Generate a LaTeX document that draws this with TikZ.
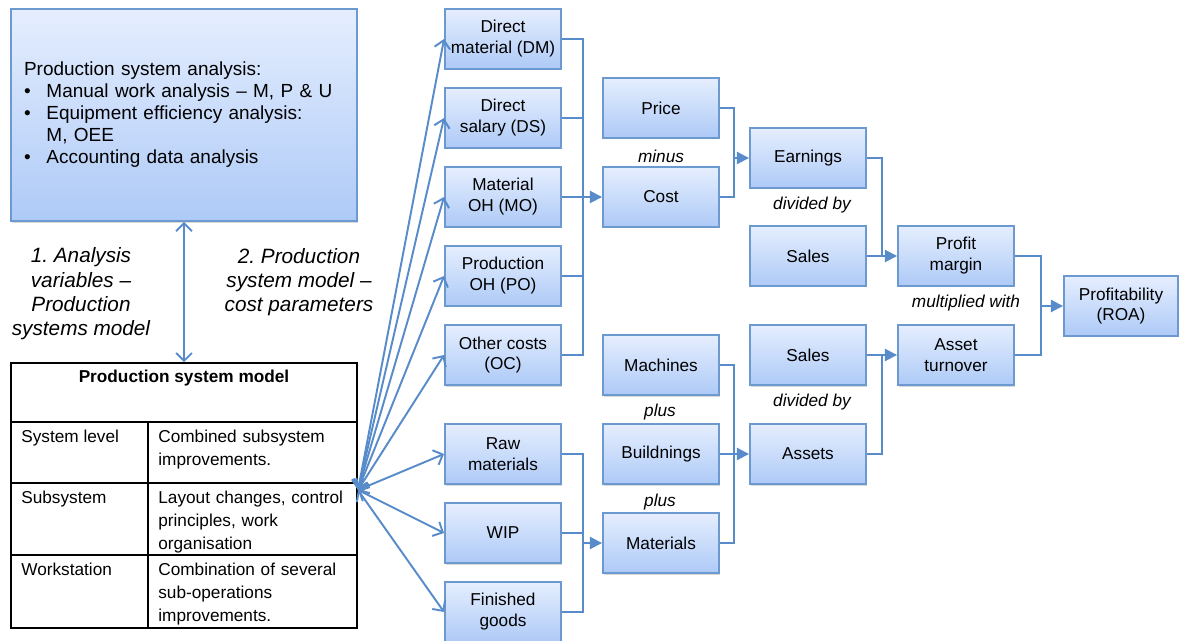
\documentclass[tikz,border=0pt]{standalone}
\usepackage{fontspec}
\setmainfont{Liberation Sans}
\usepackage{tikz}
\usetikzlibrary{arrows.meta, positioning, shadows}

\definecolor{boxedge}{RGB}{108,153,208}
\definecolor{boxtop}{RGB}{229,238,254}
\definecolor{boxbot}{RGB}{174,202,247}
\definecolor{linkblue}{RGB}{88,139,201}

\newcommand{\boxfont}{\fontsize{9.8}{11.9}\selectfont}
\newcommand{\anafont}{\fontsize{10.8}{12.6}\selectfont}
\newcommand{\stepfont}{\fontsize{11.8}{13.8}\selectfont\itshape}
\newcommand{\opfont}{\fontsize{9.8}{11.9}\selectfont\itshape}
\newcommand{\tblfont}{\fontsize{9.8}{12.9}\selectfont}

\begin{document}
\begin{tikzpicture}[x=0.02cm, y=-0.02cm,
  box/.style={draw=boxedge, line width=1.1pt, top color=boxtop, bottom color=boxbot,
    minimum width=2.32cm, minimum height=1.19cm, inner sep=1pt, align=center,
    font=\boxfont, drop shadow={shadow xshift=0.7pt, shadow yshift=-1pt, opacity=0.3}},
  link/.style={draw=linkblue, line width=1.1pt},
  flow/.style={link, -{Triangle[length=7pt, width=7pt]}},
  fan/.style={link, {Straight Barb[length=4.5pt, width=9pt]}-{Straight Barb[length=4.5pt, width=9pt]}},
  steplbl/.style={align=center, font=\stepfont},
  oplbl/.style={font=\opfont},
  cell/.style={anchor=north west, inner sep=0pt, align=left, font=\tblfont}]
  \useasboundingbox (0,0) rectangle (1179,641);

  % Analysis box
  \node[box, minimum width=6.92cm, minimum height=4.24cm, text width=6.4cm,
    inner xsep=0.26cm, align=left, font=\anafont] (ana) at (184,115) {%
    \begin{tabular}{@{}l@{\hspace{9pt}}l@{}}
      \multicolumn{2}{@{}l@{}}{Production system analysis:}\\
      \textbullet & Manual work analysis – M, P \& U\\
      \textbullet & Equipment efficiency analysis:\\
                  & M, OEE\\
      \textbullet & Accounting data analysis
    \end{tabular}};

  % Production system model table
  \node[draw, line width=0.9pt, minimum width=6.92cm, minimum height=5.3cm] (tbl) at (184,495.5) {};
  \draw[line width=0.9pt] (11,422) -- (357,422) (11,483) -- (357,483) (11,555) -- (357,555)
    (148,422) -- (148,628);
  \node[font=\tblfont\bfseries] (tblhead) at (184,378) {Production system model};
  \node[cell] (lvla) at (21,430) {System level};
  \node[cell] (lvlb) at (21,491) {Subsystem};
  \node[cell] (lvlc) at (21,563) {Workstation};
  \node[cell, text width=3.9cm] (desca) at (158,430) {Combined subsystem\\improvements.};
  \node[cell, text width=3.9cm] (descb) at (158,491) {Layout changes, control\\principles, work\\organisation};
  \node[cell, text width=3.9cm] (descc) at (158,563) {Combination of several\\sub-operations\\improvements.};

  \draw[fan] (ana.south) -- (tbl.north);
  \node[steplbl] (stepa) at (81,294) {1.\ Analysis\\variables –\\Production\\systems model};
  \node[steplbl] (stepb) at (299,282) {2.\ Production\\system model –\\cost parameters};

  % Cost parameters and capital
  \node[box] (dm)  at (503,39)  {Direct\\material (DM)};
  \node[box] (ds)  at (503,118) {Direct\\salary (DS)};
  \node[box] (mo)  at (503,197) {Material\\OH (MO)};
  \node[box] (po)  at (503,276) {Production\\OH (PO)};
  \node[box] (oc)  at (503,355) {Other costs\\(OC)};
  \node[box] (raw) at (503,454) {Raw\\materials};
  \node[box] (wip) at (503,533) {WIP};
  \node[box] (fin) at (503,612) {Finished\\goods};

  \coordinate (fanpt) at (358,490);
  \foreach \b in {dm,ds,mo,po,oc,raw,wip,fin}
    \draw[fan] (fanpt) -- (\b.west);

  % Second column
  \node[box] (price) at (661,108) {Price};
  \node[box] (cost)  at (661,197) {Cost};
  \node[box] (mach)  at (661,365) {Machines};
  \node[box] (build) at (661,454) {Buildnings};
  \node[box] (mats)  at (661,543) {Materials};
  \node[oplbl] (minus) at (661,156) {minus};
  \node[oplbl] (plusa) at (660,412) {plus};
  \node[oplbl] (plusb) at (660,502) {plus};

  \coordinate (cbus) at (583,197);
  \draw[link] (dm.east) -| (cbus) (oc.east) -| (cbus);
  \foreach \b in {ds,mo,po}
    \draw[link] (\b.east) -- (\b.east -| cbus);
  \draw[flow] (cbus) -- (cost.west);

  \coordinate (mbus) at (583,543);
  \draw[link] (raw.east) -| (mbus) (fin.east) -| (mbus) (wip.east) -- (wip.east -| mbus);
  \draw[flow] (mbus) -- (mats.west);

  % Third column
  \node[box] (earn)   at (808,158) {Earnings};
  \node[box] (salesa) at (808,256) {Sales};
  \node[box] (salesb) at (808,355) {Sales};
  \node[box] (assets) at (808,454) {Assets};
  \node[oplbl] (diva) at (812,205) {divided by};
  \node[oplbl] (divb) at (812,402) {divided by};

  \coordinate (ebus) at (734,158);
  \draw[link] (price.east) -| (ebus) (cost.east) -| (ebus);
  \draw[flow] (ebus) -- (earn.west);

  \coordinate (abus) at (734,454);
  \draw[link] (mach.east) -| (abus) (mats.east) -| (abus) (build.east) -- (abus);
  \draw[flow] (abus) -- (assets.west);

  % Ratios
  \node[box] (profit) at (956,256) {Profit\\margin};
  \node[box] (turn)   at (956,355) {Asset\\turnover};
  \node[box, minimum width=2.28cm] (roa) at (1121,306) {Profitability\\(ROA)};
  \node[oplbl] (mult) at (966,303) {multiplied with};

  \coordinate (pbus) at (882,256);
  \draw[link] (earn.east) -| (pbus) (salesa.east) -- (pbus);
  \draw[flow] (pbus) -- (profit.west);

  \coordinate (tbus) at (882,355);
  \draw[link] (assets.east) -| (tbus) (salesb.east) -- (tbus);
  \draw[flow] (tbus) -- (turn.west);

  \coordinate (rbus) at (1041,306);
  \draw[link] (profit.east) -| (rbus) (turn.east) -| (rbus);
  \draw[flow] (rbus) -- (roa.west);
\end{tikzpicture}
\end{document}
